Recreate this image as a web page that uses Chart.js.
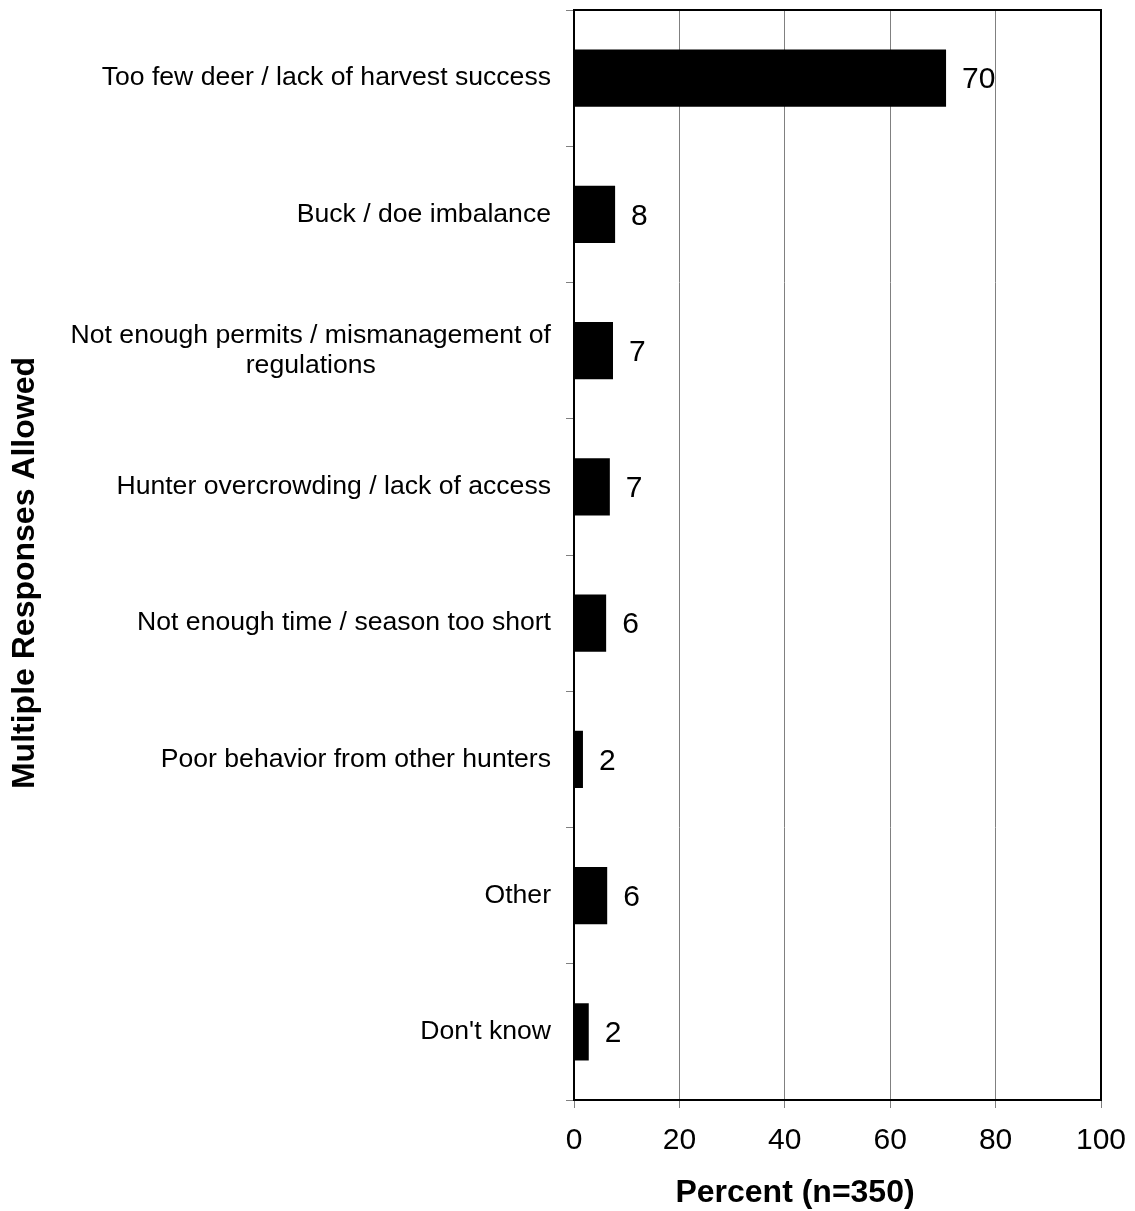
<!DOCTYPE html>
<html>
<head>
<meta charset="utf-8">
<script src="https://cdn.jsdelivr.net/npm/chart.js@4.4.1/dist/chart.umd.min.js"></script>
<style>
  body { margin: 0; background: #fff; }
  #wrap { width: 1135px; height: 1211px; }
</style>
</head>
<body>
<div id="wrap"><canvas id="myChart" width="1135" height="1211"></canvas></div>
<script>
const categorias = [
    ["Too few deer / lack of harvest success"],
    ["Buck / doe imbalance"],
    ["Not enough permits / mismanagement of", "regulations"],
    ["Hunter overcrowding / lack of access"],
    ["Not enough time / season too short"],
    ["Poor behavior from other hunters"],
    ["Other"],
    ["Don't know"]
];
const porcentajes = [70.6, 7.8, 7.4, 6.8, 6.1, 1.7, 6.3, 2.8];
const etiquetas = ["70", "8", "7", "7", "6", "2", "6", "2"];
const ticksX = [0, 20, 40, 60, 80, 100];
const tituloX = "Percent (n=350)";
const tituloY = "Multiple Responses Allowed";

const fuente = "'Liberation Sans', Arial, Helvetica, sans-serif";

const marcoYEtiquetas = {
    id: 'marcoYEtiquetas',
    afterDatasetsDraw(chart) {
        const ctx = chart.ctx;
        const area = chart.chartArea;
        const escalaY = chart.scales.y;

        ctx.save();
        // marco negro del area
        ctx.strokeStyle = '#000';
        ctx.lineWidth = 2;
        ctx.strokeRect(area.left, area.top, area.right - area.left, area.bottom - area.top);

        // valores al final de cada barra
        ctx.fillStyle = '#000';
        ctx.font = '30px ' + fuente;
        ctx.textAlign = 'left';
        ctx.textBaseline = 'middle';
        chart.getDatasetMeta(0).data.forEach((barra, i) => {
            ctx.fillText(etiquetas[i], barra.x + 16, barra.y + 2);
        });

        // nombres de categorias
        ctx.font = '26.6px ' + fuente;
        ctx.textAlign = 'center';
        const derecha = area.left - 23;
        categorias.forEach((lineas, i) => {
            const yc = escalaY.getPixelForValue(i);
            const anchos = lineas.map(l => ctx.measureText(l).width);
            const maxAncho = Math.max(...anchos);
            const alto = 30;
            const y0 = yc - (lineas.length - 1) * alto / 2;
            lineas.forEach((l, j) => {
                ctx.fillText(l, derecha - maxAncho / 2, y0 + j * alto);
            });
        });

        // titulos de ejes
        ctx.font = 'bold 32px ' + fuente;
        ctx.fillText(tituloX, 795, 1193);
        ctx.translate(25, 573);
        ctx.rotate(-Math.PI / 2);
        ctx.fillText(tituloY, 0, 0);
        ctx.restore();
    }
};

const ctx = document.getElementById('myChart').getContext('2d');
new Chart(ctx, {
    type: 'bar',
    data: {
        labels: categorias.map(c => c.join(' ')),
        datasets: [{
            data: porcentajes,
            backgroundColor: '#000',
            borderWidth: 0,
            barPercentage: 0.42,
            categoryPercentage: 1
        }]
    },
    options: {
        indexAxis: 'y',
        responsive: false,
        animation: false,
        layout: { padding: { top: 10, right: 34, left: 0, bottom: 0 } },
        plugins: {
            legend: { display: false },
            tooltip: { enabled: false }
        },
        scales: {
            x: {
                min: 0,
                max: 100,
                afterBuildTicks: s => { s.ticks = ticksX.map(v => ({ value: v })); },
                afterFit: s => {
                    s.height = 111;
                    s.paddingLeft = 0;
                    s.paddingRight = 0;
                },
                border: { display: false },
                grid: { color: '#808080', lineWidth: 1, tickLength: 8 },
                ticks: { color: '#000', font: { family: fuente, size: 30 }, padding: 15 }
            },
            y: {
                afterFit: s => {
                    s.width = 574;
                    s.paddingTop = 0;
                    s.paddingBottom = 0;
                },
                border: { display: false },
                grid: { offset: true, drawOnChartArea: false, color: '#808080', tickLength: 8 },
                ticks: { display: false }
            }
        }
    },
    plugins: [marcoYEtiquetas]
});
</script>
</body>
</html>
